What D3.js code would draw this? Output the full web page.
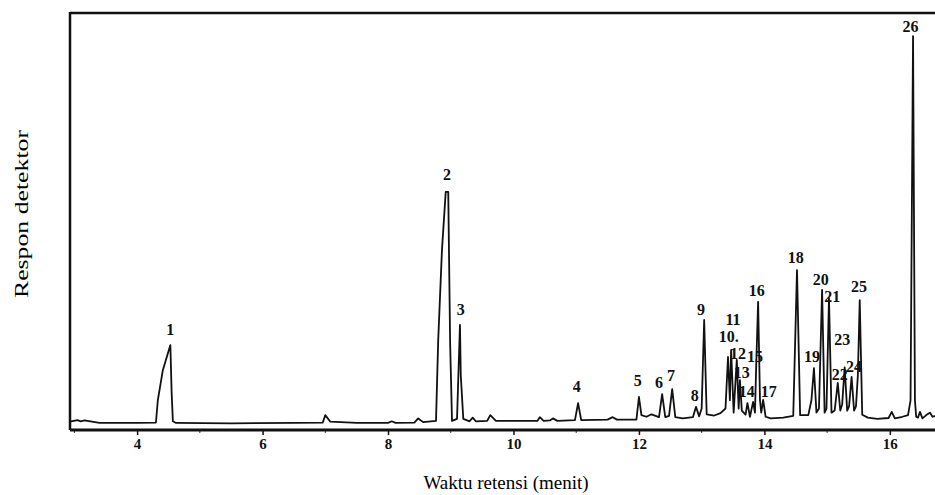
<html>
<head>
<meta charset="utf-8">
<script src="https://cdn.jsdelivr.net/npm/d3@7/dist/d3.min.js"></script>
<style>
	body { margin: 0; background: #fff; }
	svg { display: block; }
</style>
</head>
<body>
<div id="chart"></div>
<script>
// retention time (min) and detector response (arbitrary units, 100 = top of frame)
var traceTime = [
	2.93, 3.05, 3.10, 3.16, 3.40, 4.00, 4.30, 4.33, 4.41, 4.53, 4.55, 4.57, 4.62, 5.50, 6.50,
	6.96, 7.00, 7.08, 7.50, 8.00, 8.06, 8.12, 8.42, 8.48, 8.56, 8.765, 8.80, 8.86, 8.92, 8.96,
	8.99, 9.02, 9.10, 9.147, 9.16, 9.20, 9.30, 9.35, 9.40, 9.58, 9.63, 9.72, 10.00, 10.38, 10.42,
	10.48, 10.58, 10.63, 10.70, 10.98, 11.03, 11.08, 11.50, 11.58, 11.65, 11.96, 12.00, 12.04,
	12.12, 12.20, 12.32, 12.37, 12.42, 12.48, 12.53, 12.58, 12.70, 12.86, 12.91, 12.96, 13.00,
	13.04, 13.08, 13.20, 13.30, 13.38, 13.42, 13.45, 13.47, 13.51, 13.56, 13.59, 13.61, 13.64,
	13.70, 13.73, 13.77, 13.82, 13.85, 13.87, 13.90, 13.93, 13.95, 13.98, 14.02, 14.10, 14.30,
	14.46, 14.52, 14.57, 14.70, 14.75, 14.79, 14.83, 14.87, 14.92, 14.96, 14.99, 15.03, 15.07,
	15.12, 15.17, 15.21, 15.24, 15.28, 15.32, 15.35, 15.39, 15.43, 15.46, 15.49, 15.52, 15.56,
	15.65, 15.80, 15.98, 16.03, 16.08, 16.20, 16.29, 16.33, 16.37, 16.40, 16.42, 16.45, 16.48,
	16.52, 16.58, 16.64, 16.68, 16.72
];
var traceResponse = [
	0.8, 1.2, 0.9, 1.1, 0.5, 0.5, 0.6, 6.0, 13.3, 19.4, 8.0, 0.9, 0.5, 0.4, 0.5,
	0.6, 2.4, 0.8, 0.5, 0.5, 0.9, 0.5, 0.6, 1.6, 0.7, 1.0, 20.6, 42.5, 56.6, 56.6,
	20.0, 1.0, 1.5, 24.3, 12.0, 1.5, 0.9, 1.8, 0.9, 1.0, 2.4, 1.0, 1.0, 1.0, 1.9,
	1.0, 1.1, 1.6, 1.0, 1.2, 5.3, 1.2, 1.3, 1.9, 1.3, 1.3, 6.8, 2.4, 2.0, 2.6, 1.9,
	7.5, 1.9, 2.2, 8.7, 1.9, 1.6, 1.9, 4.4, 2.1, 4.0, 25.5, 2.6, 2.3, 2.9, 4.0, 16.5,
	6.0, 18.2, 3.0, 15.8, 4.0, 10.9, 3.5, 2.5, 5.3, 2.0, 5.6, 3.0, 14.6, 29.9, 6.0,
	3.0, 6.1, 2.0, 1.6, 1.8, 2.2, 37.6, 2.4, 2.4, 6.0, 13.8, 3.0, 4.0, 32.8, 3.0,
	4.0, 30.8, 3.0, 3.5, 10.2, 3.5, 5.0, 14.0, 3.5, 4.5, 11.7, 3.5, 4.5, 12.0, 30.3,
	2.5, 1.8, 1.5, 1.7, 3.2, 1.6, 2.0, 2.4, 6.0, 94.4, 6.0, 2.0, 1.8, 3.2, 1.6,
	2.4, 3.0, 2.0, 2.2
];

var peakLabels = ["1", "2", "3", "4", "5", "6", "7", "8", "9", "10.", "11", "12", "13",
	"14", "15", "16", "17", "18", "19", "20", "21", "22", "23", "24", "25", "26"];
var peakLabelTime = [4.53, 8.94, 9.16, 11.01, 11.98, 12.32, 12.51, 12.89, 12.99, 13.43,
	13.50, 13.58, 13.64, 13.72, 13.85, 13.88, 14.07, 14.50, 14.76, 14.90, 15.08, 15.20,
	15.24, 15.43, 15.51, 16.33];
var peakLabelLevel = [21.8, 59.5, 26.7, 8.0, 9.5, 9.0, 10.7, 5.8, 26.7, 20.1, 24.3, 16.0,
	11.4, 6.8, 15.3, 31.3, 6.8, 39.3, 15.3, 34.0, 29.9, 10.9, 19.4, 12.9, 32.3, 95.4];

var tickValues = [4, 6, 8, 10, 12, 14, 16];
var minorTicks = [3, 5, 7, 9, 11, 13, 15];

var width = 935, height = 495;

var svg = d3.select("#chart").append("svg")
	.attr("width", width)
	.attr("height", height);

var x = d3.scaleLinear().domain([2.93, 16.72]).range([70, 935]);
var y = d3.scaleLinear().domain([0, 100]).range([425, 13]);
var axisY = 430;

// frame: top and left
svg.append("line")
	.attr("x1", x(2.93)).attr("x2", width)
	.attr("y1", y(100)).attr("y2", y(100))
	.attr("stroke", "#111").attr("stroke-width", 2.5);
svg.append("line")
	.attr("x1", x(2.93)).attr("x2", x(2.93))
	.attr("y1", y(100) - 1).attr("y2", axisY)
	.attr("stroke", "#111").attr("stroke-width", 2.5);

// bottom axis
var xAxis = d3.axisBottom(x)
	.tickValues(tickValues)
	.tickSize(5)
	.tickPadding(3)
	.tickFormat(d3.format("d"));

var gx = svg.append("g")
	.attr("transform", "translate(0," + axisY + ")")
	.attr("font-family", "Liberation Serif, serif")
	.attr("font-size", 15)
	.call(xAxis);
gx.select(".domain").remove();
gx.selectAll(".tick line").attr("stroke", "#111").attr("stroke-width", 1.5);
gx.selectAll(".tick text")
	.style("font-family", "Liberation Serif, serif")
	.style("font-weight", "bold")
	.style("font-size", "15px")
	.attr("fill", "#111");

svg.append("g").selectAll("line")
	.data(minorTicks)
	.enter().append("line")
	.attr("x1", function(d) { return x(d); })
	.attr("x2", function(d) { return x(d); })
	.attr("y1", axisY).attr("y2", axisY + 3)
	.attr("stroke", "#333").attr("stroke-width", 1);

svg.append("line")
	.attr("x1", x(2.93)).attr("x2", width)
	.attr("y1", axisY).attr("y2", axisY)
	.attr("stroke", "#111").attr("stroke-width", 3);

// chromatogram trace
var trace = d3.zip(traceTime, traceResponse);
var line = d3.line()
	.x(function(d) { return x(d[0]); })
	.y(function(d) { return y(d[1]); });

svg.append("path")
	.datum(trace)
	.attr("d", line)
	.attr("fill", "none")
	.attr("stroke", "#111")
	.attr("stroke-width", 1.8)
	.attr("stroke-linejoin", "round");

// peak numbers
svg.append("g").selectAll("text")
	.data(peakLabels)
	.enter().append("text")
	.attr("x", function(d, i) { return x(peakLabelTime[i]); })
	.attr("y", function(d, i) { return y(peakLabelLevel[i]); })
	.attr("text-anchor", "middle")
	.attr("font-family", "Liberation Serif, serif")
	.attr("font-weight", "bold")
	.attr("font-size", 16)
	.attr("fill", "#111")
	.text(function(d) { return d; });

// axis titles
svg.append("text")
	.attr("x", 506)
	.attr("y", 489)
	.attr("text-anchor", "middle")
	.attr("font-family", "Liberation Serif, serif")
	.attr("font-size", 19)
	.attr("fill", "#000")
	.text("Waktu retensi (menit)");

svg.append("text")
	.attr("transform", "translate(28,214) rotate(-90)")
	.attr("text-anchor", "middle")
	.attr("font-family", "Liberation Serif, serif")
	.attr("font-size", 19)
	.attr("textLength", 168)
	.attr("lengthAdjust", "spacingAndGlyphs")
	.attr("fill", "#000")
	.text("Respon detektor");
</script>
</body>
</html>
